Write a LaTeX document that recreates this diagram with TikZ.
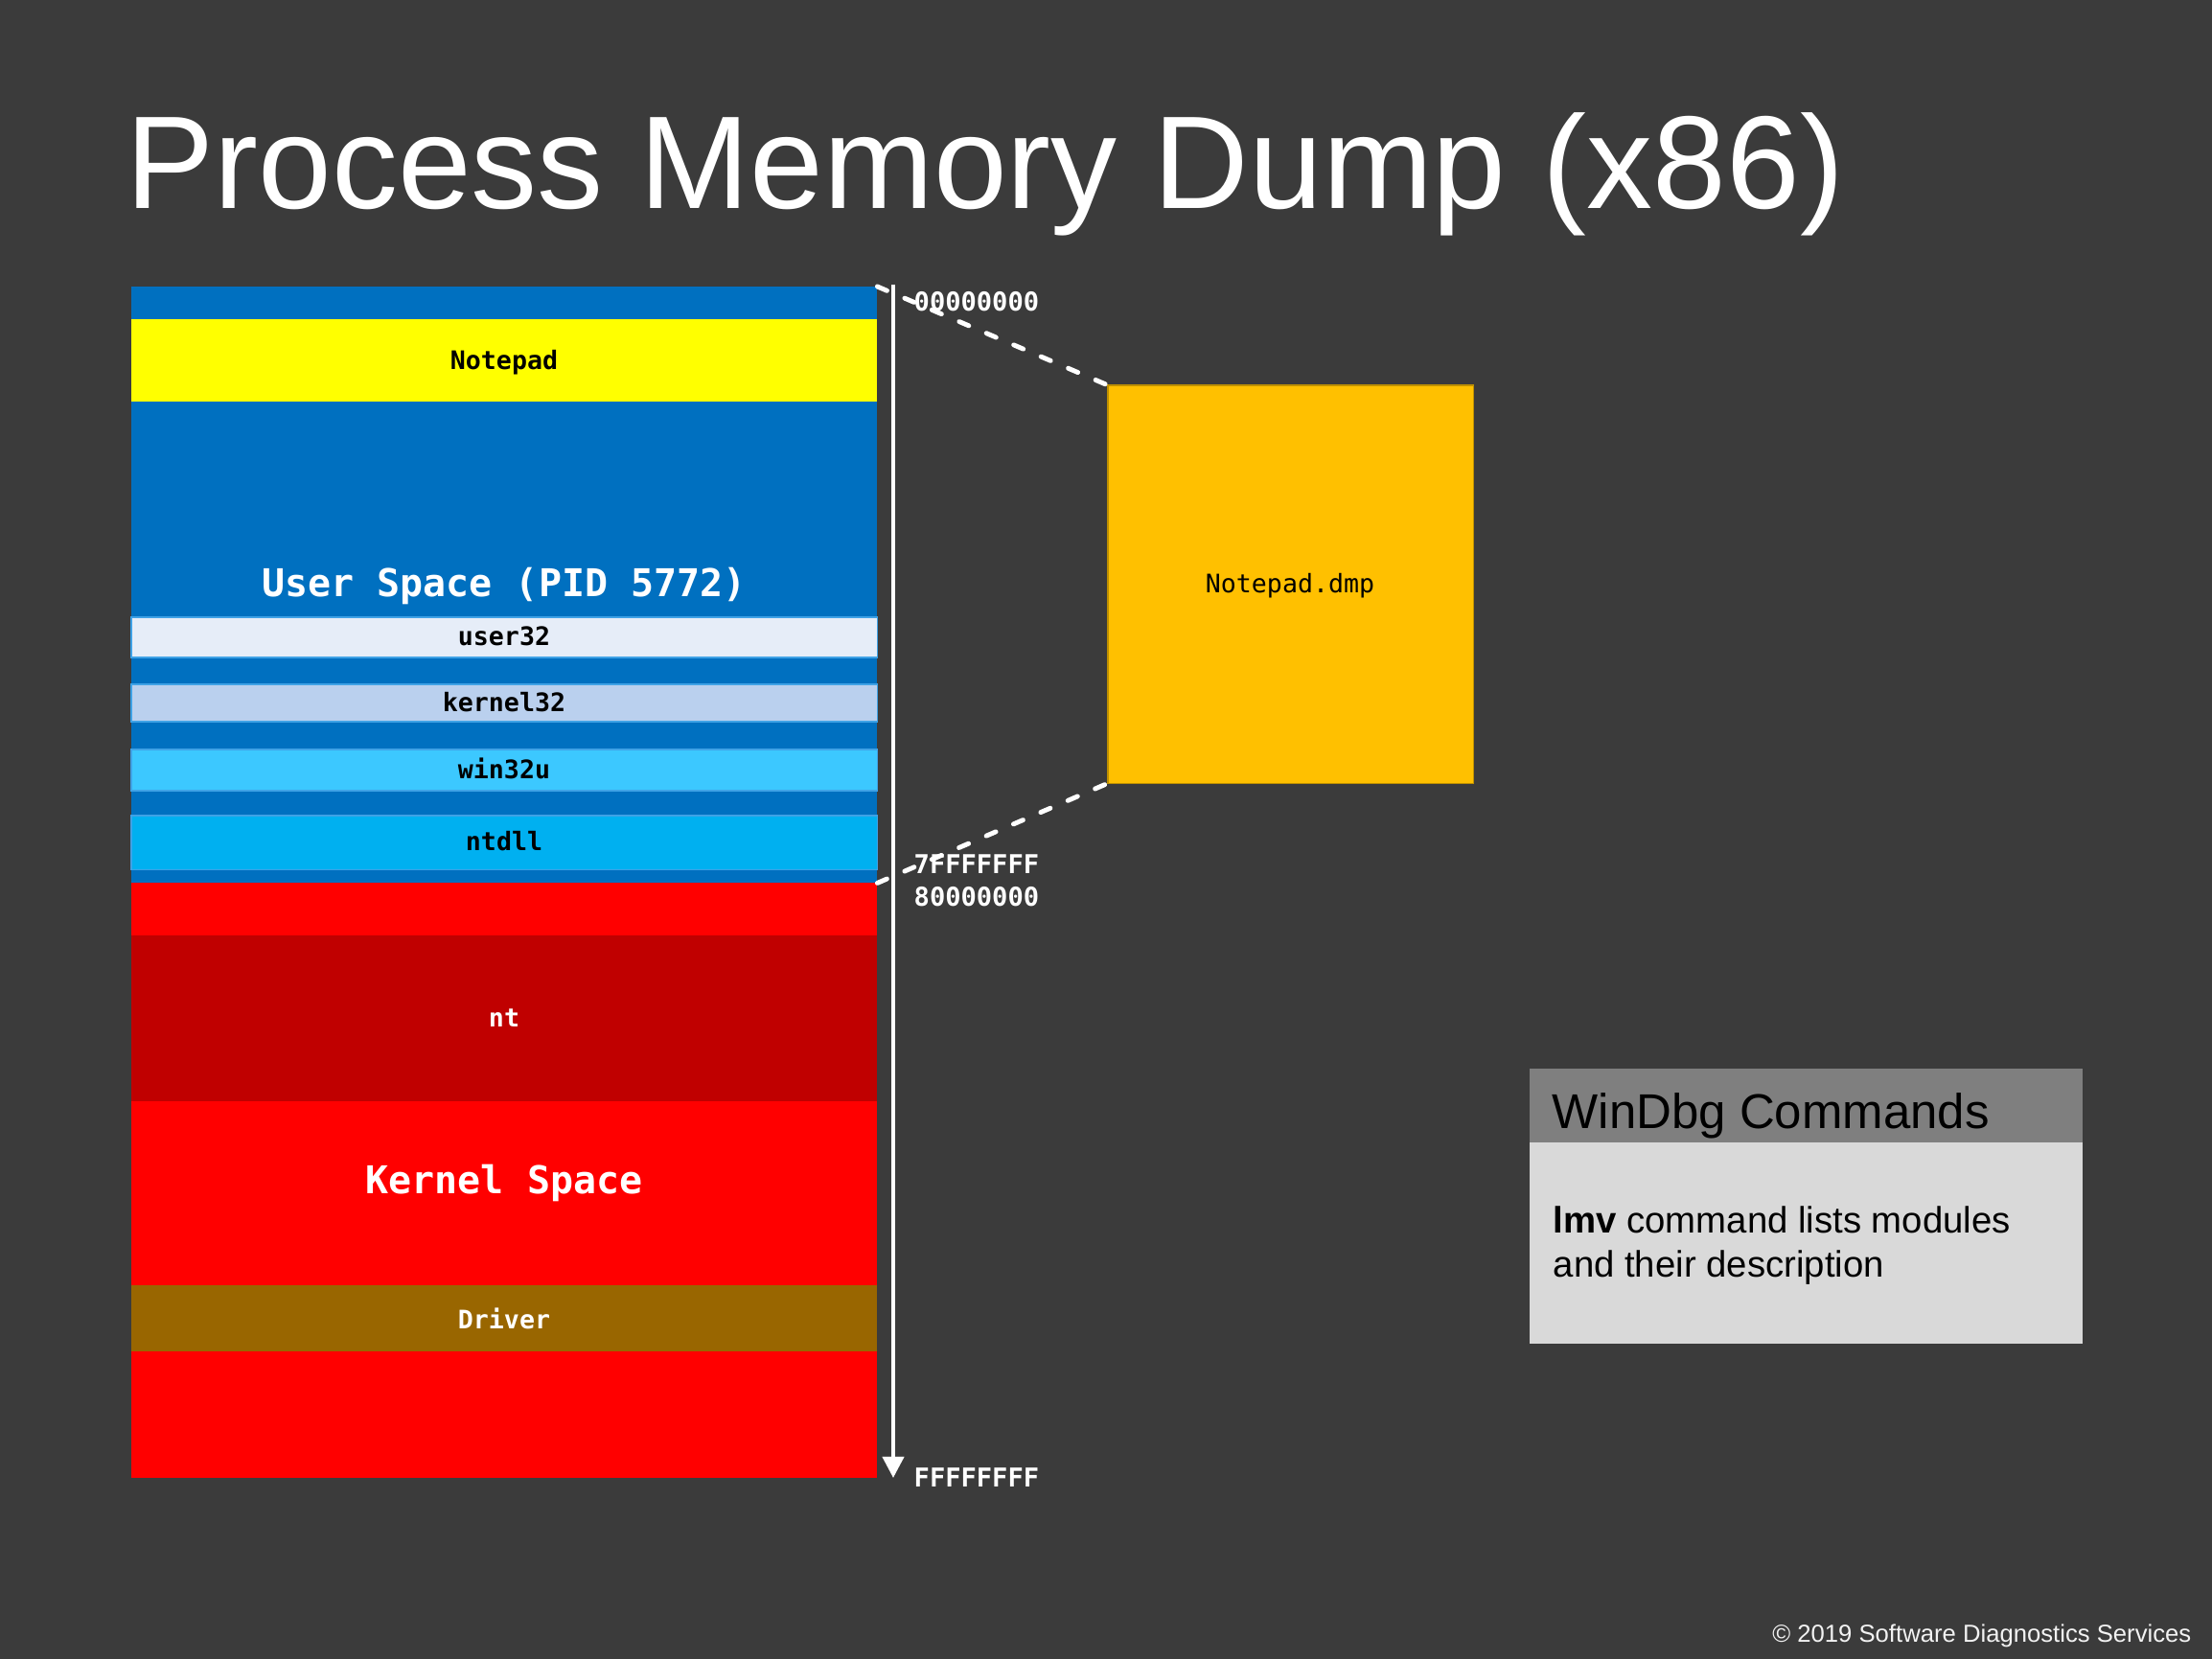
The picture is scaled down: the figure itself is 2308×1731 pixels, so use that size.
\documentclass[tikz,border=0pt]{standalone}
\usepackage{fontspec}
\setmainfont{Liberation Sans}
\newfontfamily\monof{DejaVu Sans Mono}
\usetikzlibrary{arrows.meta}
\definecolor{bgc}{HTML}{3B3B3B}
\definecolor{ublue}{HTML}{0070C0}
\definecolor{edgeblue}{HTML}{3FA2E6}
\definecolor{npyel}{HTML}{FFFF00}
\definecolor{u32c}{HTML}{E6EDF8}
\definecolor{k32c}{HTML}{BAD0EE}
\definecolor{w32c}{HTML}{3CC8FF}
\definecolor{ntdc}{HTML}{00B0F0}
\definecolor{kred}{HTML}{FF0000}
\definecolor{ntc}{HTML}{C00000}
\definecolor{drvc}{HTML}{996600}
\definecolor{dmpc}{HTML}{FFC000}
\definecolor{dmpedge}{HTML}{BF9000}
\definecolor{hdrc}{HTML}{7F7F7F}
\definecolor{bodyc}{HTML}{D9D9D9}
\definecolor{copyc}{HTML}{F2F2F2}
\begin{document}
\begin{tikzpicture}[x=0.01cm,y=-0.01cm,
  band/.style={inner sep=0, outer sep=0, minimum width=7.78cm, anchor=north west},
  modband/.style={band, draw=edgeblue, line width=0.3pt},
  lblsmall/.style={inner sep=0, anchor=base, font=\monof\bfseries\fontsize{7.56}{9}\selectfont},
  lblbig/.style={inner sep=0, anchor=base, text=white, font=\monof\bfseries\fontsize{11.35}{13}\selectfont},
  addr/.style={inner sep=0, anchor=base west, text=white, font=\monof\bfseries\fontsize{7.7}{9}\selectfont},
  dotline/.style={white, line width=1.4pt, line cap=round, dash pattern=on 3.1pt off 5.7pt},
  plain/.style={inner sep=0, outer sep=0, anchor=north west}]
\fill[bgc] (0,0) rectangle (2308,1731);
\useasboundingbox (0,0) rectangle (2308,1731);

% title
\node[inner sep=0, anchor=base west, text=white, font=\fontsize{39.2}{44}\selectfont] (title) at (131,218) {Process Memory Dump (x86)};

% user space
\node[band, fill=ublue, minimum height=6.22cm] (user) at (137,299) {};
\node[band, fill=npyel, minimum height=0.86cm] (np) at (137,333) {};
\node[modband, fill=u32c, minimum height=0.42cm] (u32) at (137,644) {};
\node[modband, fill=k32c, minimum height=0.39cm] (k32) at (137,714) {};
\node[modband, fill=w32c, minimum height=0.43cm] (w32) at (137,782) {};
\node[modband, fill=ntdc, minimum height=0.56cm] (ntd) at (137,851) {};

% kernel space
\node[band, fill=kred, minimum height=6.21cm] (kern) at (137,921) {};
\node[band, fill=ntc, minimum height=1.73cm] (ntb) at (137,976) {};
\node[band, fill=drvc, minimum height=0.69cm] (drv) at (137,1341) {};

% labels
\node[lblsmall] (tnp) at (526,386) {Notepad};
\node[lblbig] (tus) at (526,623) {User Space (PID 5772)};
\node[lblsmall] (tu32) at (526,674) {user32};
\node[lblsmall] (tk32) at (526,743) {kernel32};
\node[lblsmall] (tw32) at (526,813) {win32u};
\node[lblsmall] (tntd) at (526,888) {ntdll};
\node[lblsmall, text=white] (tnt) at (526,1072) {nt};
\node[lblbig] (tks) at (526,1245) {Kernel Space};
\node[lblsmall, text=white] (tdrv) at (526,1386) {Driver};

% address axis
\coordinate (atop) at (932,297);
\coordinate (abot) at (932,1542);
\draw[white, line width=1.15pt, -{Triangle[width=6.3pt,length=6.3pt]}] (atop) -- (abot);
\node[addr] (a0) at (953,325) {00000000};
\node[addr] (a7) at (953,912) {7FFFFFFF};
\node[addr] (a8) at (953,946) {80000000};
\node[addr] (af) at (953,1551) {FFFFFFFF};

% dump file
\node[plain, fill=dmpc, draw=dmpedge, line width=0.4pt, minimum width=3.81cm, minimum height=4.15cm] (dmp) at (1156,402) {};
\node[inner sep=0, anchor=base, font=\monof\fontsize{7.56}{9}\selectfont] (tdmp) at (1346,619) {Notepad.dmp};
\draw[dotline] (user.north east) -- (dmp.north west);
\draw[dotline] (user.south east) -- (dmp.south west);

% WinDbg box
\node[plain, fill=hdrc, minimum width=5.77cm, minimum height=0.77cm] (hdr) at (1596,1115) {};
\node[plain, fill=bodyc, minimum width=5.77cm, minimum height=2.10cm] (body) at (1596,1192) {};
\node[inner sep=0, anchor=base west, font=\fontsize{14.5}{17}\selectfont] (thdr) at (1619,1177) {WinDbg Commands};
\node[inner sep=0, anchor=base west, font=\fontsize{10.9}{13}\selectfont] (tb1) at (1620,1286) {\textbf{lmv} command lists modules};
\node[inner sep=0, anchor=base west, font=\fontsize{10.9}{13}\selectfont] (tb2) at (1620,1332) {and their description};

% copyright
\node[inner sep=0, anchor=base east, text=copyc, font=\fontsize{7.3}{9}\selectfont] (copy) at (2287,1713) {© 2019 Software Diagnostics Services};
\end{tikzpicture}
\end{document}
